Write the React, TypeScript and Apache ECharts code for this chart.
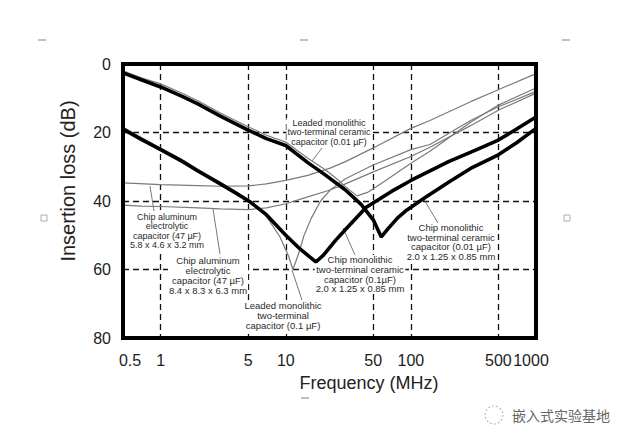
import React, { useEffect, useRef } from "react";
import * as echarts from "echarts";

// ---------- data ----------
const xTickValues = [1, 5, 10, 50, 100, 500];
const xLabelValues = [0.5, 1, 5, 10, 50, 100, 500, 1000];
const yMin = 0;
const yMax = 80;
const yInterval = 20;

// Chip monolithic two-terminal ceramic capacitor (0.01 µF) — thick
const chipMono001: [number, number][] = [
  [0.5, 2.6], [0.7, 4.6], [1, 6.7], [1.5, 9.5], [2, 11.7], [3, 15.2], [5, 19.3], [7, 21.8],
  [10, 23.8], [15, 28.8], [20, 32], [30, 36.8], [40, 41], [50, 45.5], [58, 50.5], [66, 48],
  [78, 45], [93, 42.6], [130, 39], [200, 34.5], [300, 30.5], [500, 26.5], [700, 23], [1000, 18.8],
];
// Chip monolithic two-terminal ceramic capacitor (0.1 µF) — thick
const chipMono01: [number, number][] = [
  [0.5, 19], [0.7, 22], [1, 25], [1.5, 28.5], [2, 31.3], [3, 35], [4, 37.7], [5.2, 40.3],
  [7, 44], [10, 50], [13, 54], [17.4, 57.8], [20, 55.8], [25, 51.5], [30, 48.3], [44, 41.8],
  [70, 37.2], [100, 34], [200, 28.5], [336, 25], [500, 22.2], [700, 19], [1000, 15.5],
];
// Leaded monolithic two-terminal capacitor (0.1 µF) — thin
const leaded01: [number, number][] = [
  [0.5, 18.4], [0.7, 21.5], [1, 24.5], [1.5, 28], [2, 30.8], [3, 34.5], [4, 37.3], [5.2, 40],
  [7, 44.5], [9, 50.5], [10.5, 56], [11.4, 60], [12.5, 56], [14, 50], [16, 45], [19, 40],
  [22.6, 36.8], [30, 33.5], [50, 29.5], [100, 25], [142, 23.5], [300, 16.5], [500, 12.5], [1000, 8],
];
// Chip aluminum electrolytic capacitor (47 µF) 8.4 x 8.3 x 6.3 mm — thin
const alu8: [number, number][] = [
  [0.5, 41.2], [0.7, 41.5], [1, 41.6], [2, 42], [3, 42.3], [5, 42.5], [7, 42], [10, 40.8],
  [15, 38.8], [22.6, 36.8], [30, 35], [50, 31.5], [100, 27], [142, 24.3], [300, 18], [500, 13.5],
  [1000, 8.5],
];
// Chip aluminum electrolytic capacitor (47 µF) 5.8 x 4.6 x 3.2 mm — thin
const alu5: [number, number][] = [
  [0.5, 34.7], [1, 35.2], [2, 35.5], [3, 35.7], [5, 35.6], [7, 35], [10, 34], [15, 32.5],
  [22.6, 30.4], [30, 28.5], [50, 24.5], [100, 18.8], [142, 16.5], [300, 11], [500, 7.5], [1000, 2.8],
];
// Leaded monolithic two-terminal ceramic capacitor (0.01 µF) — thin
const leaded001: [number, number][] = [
  [0.5, 2], [0.7, 4], [1, 5.8], [1.5, 8.6], [2, 10.8], [3, 14.3], [5, 18.3], [7, 20.8],
  [10, 22.8], [15, 27.5], [20, 30.5], [25, 33.2], [30, 35.8], [37, 38.5], [45, 37.5], [60, 34.5],
  [100, 29], [142, 25.5], [300, 17], [500, 12], [1000, 7],
];

const FONT = "'Liberation Sans', Arial, sans-serif";
const TXT = "#2a2a2a";

function annot(text: string, x: number, y: number, size = 9, lh = 9.5) {
  return {
    type: "text",
    x,
    y,
    z: 1,
    style: {
      text,
      fill: TXT,
      font: `${size}px ${FONT}`,
      align: "center",
      verticalAlign: "top",
      lineHeight: lh,
      backgroundColor: "#fff",
      padding: [0, 1],
    },
  };
}
function pointer(x1: number, y1: number, x2: number, y2: number) {
  return {
    type: "line",
    z: 1,
    shape: { x1, y1, x2, y2 },
    style: { stroke: "#555", lineWidth: 0.8 },
  };
}
function handleDash(x: number, y: number) {
  return { type: "line", shape: { x1: x - 4, y1: y, x2: x + 4, y2: y }, style: { stroke: "#999", lineWidth: 1.2 } };
}
function handleBox(x: number, y: number) {
  return { type: "rect", shape: { x: x - 3, y: y - 3, width: 6, height: 6 }, style: { stroke: "#999", fill: "#fff", lineWidth: 0.8 } };
}

export default function App() {
  const ref = useRef<HTMLDivElement>(null);
  useEffect(() => {
    if (!ref.current) return;
    const chart = echarts.init(ref.current, null, { renderer: "svg" });
    const thin = (name: string, data: [number, number][]) => ({
      type: "line",
      name,
      data,
      symbol: "none",
      smooth: false,
      z: 3,
      lineStyle: { color: "#7a7a7a", width: 1.2 },
    });
    const thick = (name: string, data: [number, number][]) => ({
      type: "line",
      name,
      data,
      symbol: "none",
      smooth: false,
      z: 4,
      lineStyle: { color: "#000", width: 3.6 },
    });
    chart.setOption({
      animation: false,
      backgroundColor: "#fff",
      grid: {
        left: 123,
        right: 100,
        top: 64,
        bottom: 107,
        show: true,
        borderColor: "#000",
        borderWidth: 4,
        backgroundColor: "transparent",
        z: 10,
      },
      xAxis: {
        type: "log",
        logBase: 10,
        min: 0.5,
        max: 1000,
        axisLine: { show: false },
        axisTick: { show: false, customValues: xTickValues },
        axisLabel: {
          customValues: xLabelValues,
          fontSize: 16,
          color: "#222",
          fontFamily: FONT,
          margin: 14,
          formatter: (v: number) => (v === 0.5 ? "{l|0.5}" : v === 1000 ? "{r|1000}" : String(v)),
          rich: {
            l: { fontSize: 16, color: "#222", fontFamily: FONT, padding: [0, 0, 0, 14] },
            r: { fontSize: 16, color: "#222", fontFamily: FONT, padding: [0, 10, 0, 0] },
          },
        },
        splitLine: { show: true, lineStyle: { color: "#111", width: 1.3, type: [6, 4] } },
      },
      yAxis: {
        type: "value",
        inverse: true,
        min: yMin,
        max: yMax,
        interval: yInterval,
        axisLine: { show: false },
        axisTick: { show: false },
        axisLabel: { fontSize: 16, color: "#222", fontFamily: FONT, margin: 12 },
        splitLine: { show: true, lineStyle: { color: "#111", width: 1.3, type: [6, 4] } },
      },
      series: [
        thin("Chip aluminum electrolytic capacitor (47 µF) 5.8 x 4.6 x 3.2 mm", alu5),
        thin("Chip aluminum electrolytic capacitor (47 µF) 8.4 x 8.3 x 6.3 mm", alu8),
        thin("Leaded monolithic two-terminal capacitor (0.1 µF)", leaded01),
        thin("Leaded monolithic two-terminal ceramic capacitor (0.01 µF)", leaded001),
        thick("Chip monolithic two-terminal ceramic capacitor (0.1 µF)", chipMono01),
        thick("Chip monolithic two-terminal ceramic capacitor (0.01 µF)", chipMono001),
      ],
      graphic: [
        {
          type: "text",
          x: 369,
          y: 383,
          style: { text: "Frequency (MHz)", font: `18px ${FONT}`, fill: "#222", align: "center", verticalAlign: "middle" },
        },
        {
          type: "text",
          x: 68,
          y: 181,
          rotation: Math.PI / 2,
          style: { text: "Insertion loss (dB)", font: `20px ${FONT}`, fill: "#222", align: "center", verticalAlign: "middle" },
        },
        annot("Leaded monolithic\ntwo-terminal ceramic\ncapacitor (0.01 µF)", 329, 118),
        pointer(322, 148, 312, 161),
        annot("Chip aluminum\nelectrolytic\ncapacitor (47 µF)\n5.8 x 4.6 x 3.2 mm", 167, 212),
        pointer(150, 186, 154, 211),
        annot("Chip aluminum\nelectrolytic\ncapacitor (47 µF)\n8.4 x 8.3 x 6.3 mm", 208, 255, 9.5, 10),
        pointer(213, 209, 220, 254),
        annot("Leaded monolithic\ntwo-terminal\ncapacitor (0.1 µF)", 283, 300, 9.5, 10),
        pointer(292, 270, 302, 300),
        annot("Chip monolithic\ntwo-terminal ceramic\ncapacitor (0.1µF)\n2.0 x 1.25 x 0.85 mm", 360, 255, 9.5, 9.7),
        pointer(343, 228, 355, 255),
        annot("Chip monolithic\ntwo-terminal ceramic\ncapacitor (0.01 µF)\n2.0 x 1.25 x 0.85 mm", 451, 223, 9.5, 9.5),
        pointer(423, 198, 438, 223),
        handleDash(42, 40),
        handleDash(304, 40),
        handleDash(566, 40),
        handleBox(44, 218),
        handleBox(567, 218),
        handleDash(305, 398),
        {
          type: "circle",
          shape: { cx: 494, cy: 415, r: 9 },
          style: { stroke: "#bbb", fill: "none", lineWidth: 1.2, lineDash: [2, 2] },
        },
        {
          type: "text",
          x: 512,
          y: 415,
          style: { text: "嵌入式实验基地", font: `14px 'Noto Sans CJK SC', sans-serif`, fill: "#666", align: "left", verticalAlign: "middle" },
        },
      ],
    });
    return () => chart.dispose();
  }, []);
  return <div ref={ref} style={{ position: "fixed", left: 0, top: 0, width: 636, height: 445 }} />;
}
